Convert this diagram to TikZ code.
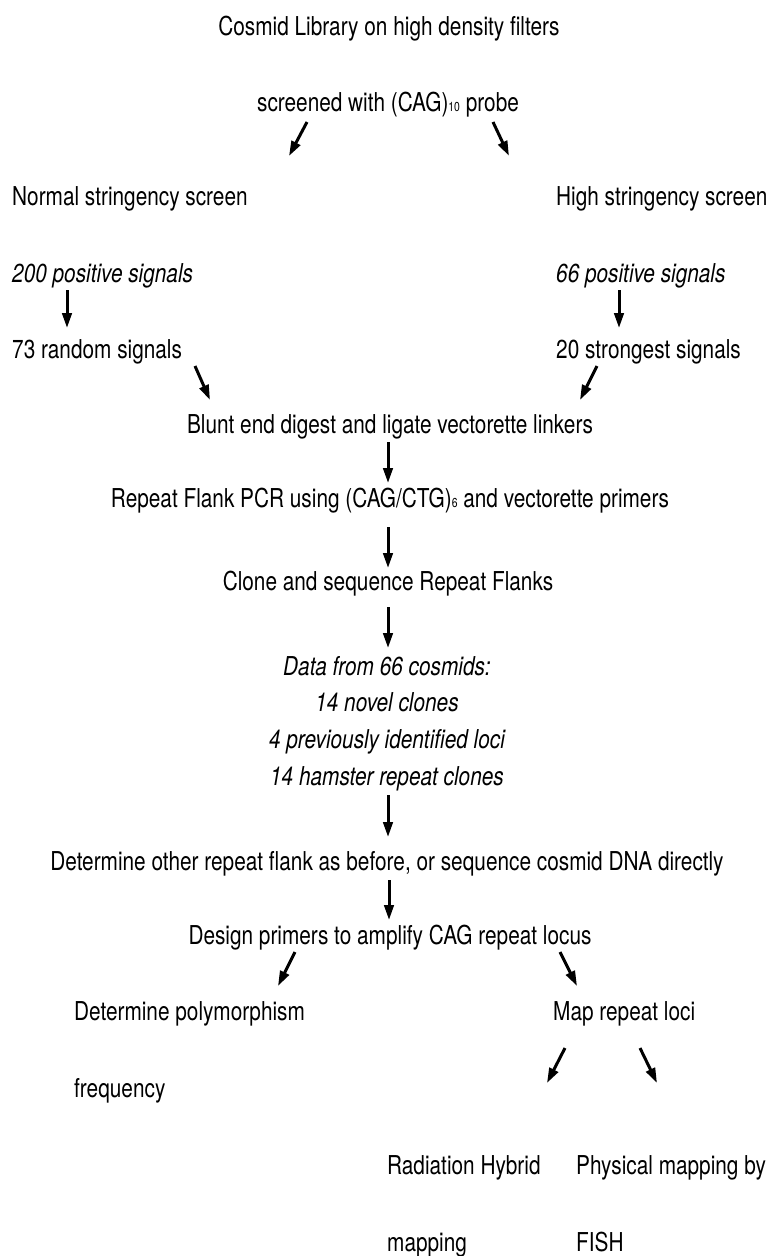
\documentclass[tikz,border=0pt]{standalone}
\usepackage{fontspec}
\setmainfont{TeX Gyre Heros}[FakeStretch=0.80]
\usetikzlibrary{arrows.meta}
\newcommand\mysub[1]{{\fontsize{13}{13}\selectfont #1}}
\begin{document}
\begin{tikzpicture}[x=1pt,y=-1pt,
  lbl/.style={font=\fontsize{26}{30}\selectfont, inner sep=0pt, anchor=base},
  lw/.style={lbl, anchor=base west},
  it/.style={font=\fontsize{26}{30}\selectfont\itshape},
  arr/.style={line width=3pt, -{Triangle[length=15pt,width=9.5pt]}}]
\useasboundingbox (0,0) rectangle (771,1256);
\node[lbl] (cosmid) at (389,35.5) {Cosmid Library on high density filters};
\node[lbl] (screen) at (388,111) {screened with (CAG)\mysub{10}\ probe};
\node[lw] (normal) at (12,205) {Normal stringency screen};
\node[lw] (high) at (556,205) {High stringency screen};
\node[lw,it] (pos200) at (12,282) {200 positive signals};
\node[lw,it] (pos66) at (556,282) {66 positive signals};
\node[lw] (rand73) at (12,358) {73 random signals};
\node[lw] (str20) at (556,358) {20 strongest signals};
\node[lbl] (blunt) at (390,433) {Blunt end digest and ligate vectorette linkers};
\node[lbl] (pcr) at (390,507) {Repeat Flank PCR using (CAG/CTG)\mysub{6} and vectorette primers};
\node[lbl] (clone) at (388,590) {Clone and sequence Repeat Flanks};
\node[lbl,it] (data1) at (387,675) {Data from 66 cosmids:};
\node[lbl,it] (data2) at (387,711) {14 novel clones};
\node[lbl,it] (data3) at (387,748) {4 previously identified loci};
\node[lbl,it] (data4) at (387,785) {14 hamster repeat clones};
\node[lbl] (determine) at (387,870) {Determine other repeat flank as before, or sequence cosmid DNA directly};
\node[lbl] (design) at (390,944) {Design primers to amplify CAG repeat locus};
\node[lw] (poly) at (74,1020) {Determine polymorphism};
\node[lw] (map) at (553,1020) {Map repeat loci};
\node[lw] (freq) at (74,1097) {frequency};
\node[lw] (rad) at (387,1174) {Radiation Hybrid};
\node[lw] (phys) at (576,1174) {Physical mapping by};
\node[lw] (mapping) at (387,1251) {mapping};
\node[lw] (fish) at (576,1251) {FISH};
\draw[arr] ([shift={(-81,11)}]screen.base) -- ++(-18,34);
\draw[arr] ([shift={(105,11)}]screen.base) -- ++(16,34);
\draw[arr] ([shift={(55,8)}]pos200.base west) -- ++(0,38);
\draw[arr] ([shift={(63,8)}]pos66.base west) -- ++(0,38);
\draw[arr] ([shift={(183,8)}]rand73.base west) -- ++(15,34);
\draw[arr] ([shift={(41,8)}]str20.base west) -- ++(-17,34);
\draw[arr] ([shift={(-2,9)}]blunt.base) -- ++(0,41);
\draw[arr] ([shift={(-2,20)}]pcr.base) -- ++(0,41);
\draw[arr] ([shift={(0,17)}]clone.base) -- ++(0,41);
\draw[arr] ([shift={(1,10)}]data4.base) -- ++(0,42);
\draw[arr] ([shift={(2,10)}]determine.base) -- ++(0,40);
\draw[arr] ([shift={(-95,8)}]design.base) -- ++(-17,34);
\draw[arr] ([shift={(170,8)}]design.base) -- ++(17,34);
\draw[arr] ([shift={(12,28)}]map.base west) -- ++(-18,35);
\draw[arr] ([shift={(87,28)}]map.base west) -- ++(17,35);
\end{tikzpicture}
\end{document}
